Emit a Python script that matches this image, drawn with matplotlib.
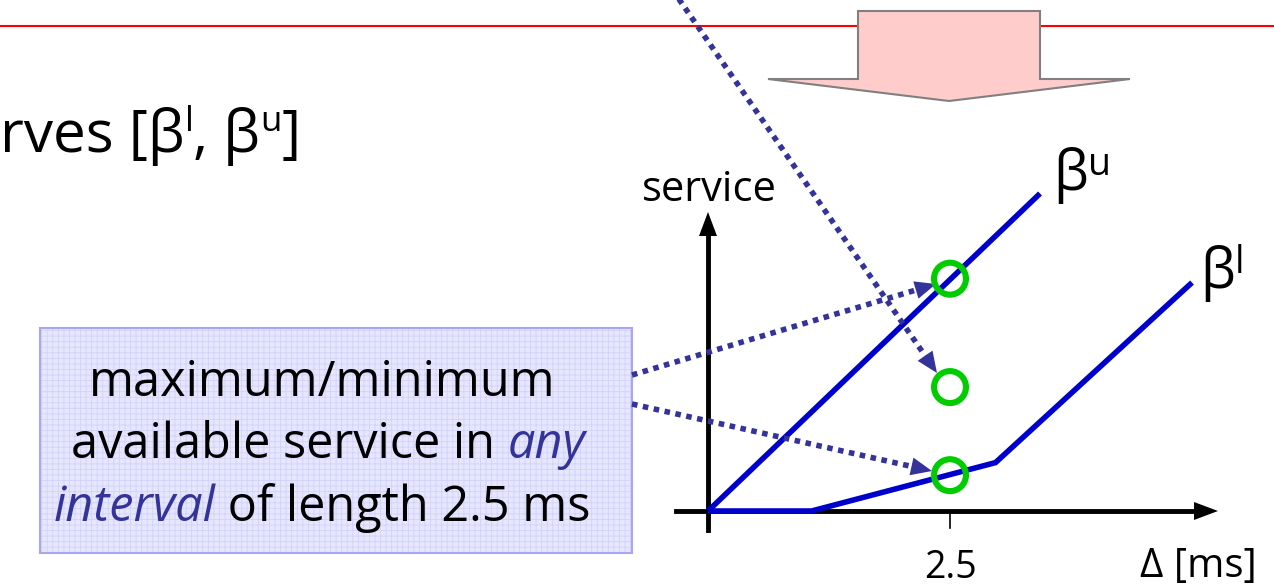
import numpy as np
import matplotlib.pyplot as plt
from matplotlib.patches import Polygon, Rectangle

plt.rcParams['font.family'] = ['Open Sans', 'DejaVu Sans']
plt.rcParams['hatch.linewidth'] = 0.6

# ---- data (Delta in ms, service in arbitrary units) ----
upper_delta = [0.0, 3.43]
upper_service = [0.0, 3.28]
lower_delta = [0.0, 1.07, 2.97, 5.0]
lower_service = [0.0, 0.0, 0.50, 2.36]
probe_delta = [2.5, 2.5, 2.5]
probe_service = [2.40, 1.28, 0.37]
tick_delta = [2.5]
tick_labels = ['2.5']

W, H = 1274, 587
X0, Y0, S = 708, 511, 96.8   # pixel origin of the chart and pixels per unit

BLUE = '#0000CC'
DOT = '#333399'
GREEN = '#00CC00'


def P(x, y):
	return (x - X0) / S, (Y0 - y) / S


fig = plt.figure(figsize=(W / 100, H / 100), dpi=100)
ax = fig.add_axes([0, 0, 1, 1])
ax.set_xlim(P(0, 0)[0], P(W, 0)[0])
ax.set_ylim(P(0, H)[1], P(0, 0)[1])
ax.axis('off')
renderer = fig.canvas.get_renderer()


def poly(pts, **kw):
	ax.add_patch(Polygon([P(x, y) for x, y in pts], closed=True, **kw))


def head_pts(x0, y0, x1, y1, length, width):
	u = np.array([x1 - x0, y1 - y0], dtype=float)
	u /= np.hypot(*u)
	n = np.array([-u[1], u[0]])
	tip = np.array([x1, y1])
	base = tip - u * length
	return [tuple(tip), tuple(base + n * width / 2), tuple(base - n * width / 2)], base


def dotted_arrow(x0, y0, x1, y1, z=7):
	pts, base = head_pts(x0, y0, x1, y1, 21, 18)
	a = P(x0, y0)
	b = P(*base)
	ax.plot([a[0], b[0]], [a[1], b[1]], color=DOT, lw=4.0, linestyle=(0, (1, 1)),
			dash_capstyle='butt', zorder=z)
	poly(pts, facecolor=DOT, edgecolor='none', zorder=z)


def seg_width(s, **kw):
	t = ax.text(0, 0, s + '|', **kw)
	w1 = t.get_window_extent(renderer).width
	t.remove()
	t = ax.text(0, 0, '|', **kw)
	w2 = t.get_window_extent(renderer).width
	t.remove()
	return w1 - w2


def rich(segs, x, y, ha='left', z=8):
	widths = [seg_width(s, **kw) for s, kw, dy in segs]
	cur = x - sum(widths) / 2 if ha == 'center' else x
	for (s, kw, dy), w in zip(segs, widths):
		ax.text(*P(cur, y - dy), s, va='baseline', ha='left', zorder=z, **kw)
		cur += w


# ---- slide decorations ----
ax.plot(*zip(P(0, 26), P(W, 26)), color='#FF0000', lw=1.5, zorder=1)
poly([(858, 11), (1040, 11), (1040, 79), (1130, 79), (949, 101), (768, 79), (858, 79)],
	 facecolor='#FFCCCC', edgecolor='#808080', lw=1.5, zorder=2)

big = dict(fontsize=42, color='black')
sup = dict(fontsize=25, color='black')
rich([('rves [β', big, 0), ('l', sup, 21), (', β', big, 0), ('u', sup, 21), (']', big, 0)],
	 0, 152)

# ---- text box ----
x_ll, y_ll = P(40, 553)
ax.add_patch(Rectangle((x_ll, y_ll), 592 / S, 225 / S, facecolor='#E6E6FF',
					   edgecolor='#D2D2FA', lw=0, hatch='+++', zorder=3))
ax.add_patch(Rectangle((x_ll, y_ll), 592 / S, 225 / S, facecolor='none',
					   edgecolor='#A6A6F2', lw=1.5, zorder=3))
fs = 35
reg = dict(fontsize=fs, color='black')
ita = dict(fontsize=fs, color=DOT, style='italic')
rich([('maximum/minimum', reg, 0)], 322, 396, ha='center')
rich([('available service in ', reg, 0), ('any', ita, 0)], 328, 458, ha='center')
rich([('interval', ita, 0), (' of length 2.5 ms', reg, 0)], 322, 521, ha='center')

# ---- chart axes ----
ax.plot(*zip(P(708, 530), P(708, 232)), color='black', lw=3.5, zorder=4)
poly(head_pts(708, 300, 708, 212, 24, 18)[0], facecolor='black', edgecolor='none', zorder=4)
ax.plot(*zip(P(676, 511), P(1198, 511)), color='black', lw=3.5, zorder=4)
poly(head_pts(1100, 511, 1218, 511, 24, 18)[0], facecolor='black', edgecolor='none', zorder=4)

for d, lab in zip(tick_delta, tick_labels):
	ax.plot([d, d], [0, -17 / S], color='black', lw=1.2, zorder=4)
	ax.text(d, P(0, 578)[1], lab, ha='center', va='baseline', fontsize=27, zorder=8)

ax.text(*P(1140, 577), 'Δ [ms]', ha='left', va='baseline', fontsize=29, zorder=8)
ax.text(*P(709, 201), 'service', ha='center', va='baseline', fontsize=30, zorder=8)

# ---- curves ----
ax.plot(upper_delta, upper_service, color=BLUE, lw=4.0, solid_capstyle='butt', zorder=5)
ax.plot(lower_delta, lower_service, color=BLUE, lw=4.0, solid_capstyle='butt',
		solid_joinstyle='miter', zorder=5)
ax.scatter(probe_delta, probe_service, s=23 ** 2, facecolors='none', edgecolors=GREEN,
		   linewidths=4.4, zorder=9)

rich([('β', dict(fontsize=40), 0), ('u', dict(fontsize=27), 15)], 1053, 190)
rich([('β', dict(fontsize=40), 0), ('l', dict(fontsize=27), 15)], 1200, 288)

# ---- dotted arrows ----
dotted_arrow(674, -8, 937, 373)
dotted_arrow(632, 375, 936, 284)
dotted_arrow(632, 404, 932, 471)

fig.savefig('out.png', dpi=100)
